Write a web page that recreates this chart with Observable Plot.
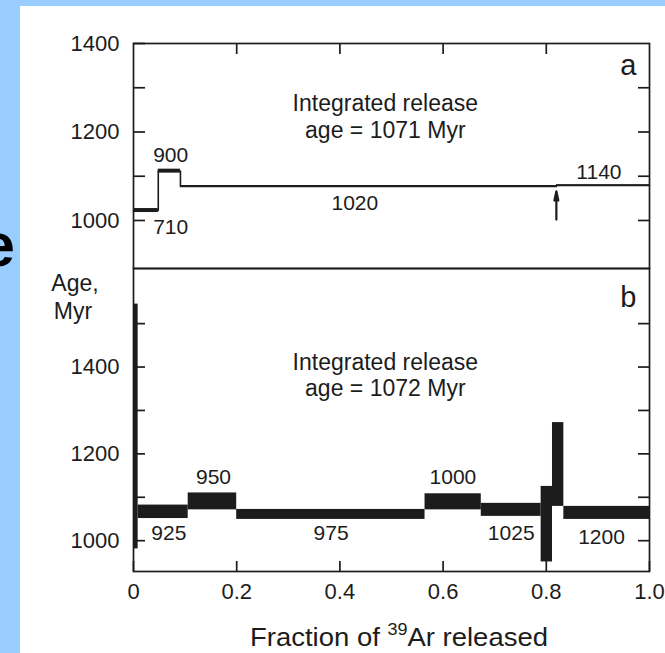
<!DOCTYPE html>
<html><head><meta charset="utf-8">
<script src="https://cdn.jsdelivr.net/npm/d3@7"></script>
<script src="https://cdn.jsdelivr.net/npm/@observablehq/plot@0.6"></script>
<style>
html,body{margin:0;padding:0;background:#99ccff;width:665px;height:653px;overflow:hidden;font-family:"Liberation Sans",Arial,sans-serif;}
#sheet{position:absolute;left:20px;top:6px;right:0;bottom:0;background:#fff;}
.layer{position:absolute;left:0;top:0;}
</style></head><body>
<div id="sheet"></div>
<div id="panelA" class="layer"></div>
<div id="panelB" class="layer"></div>
<svg id="overlay" class="layer" width="665" height="653"></svg>
<script>
// ---------- Data: panel a ----------
const fracA_start = [0, 0.048, 0.091, 0.8195];
const fracA_end   = [0.048, 0.091, 0.8195, 1.0];
const ageA_low    = [1018, 1107, 1075, 1077];
const ageA_high   = [1027, 1116, 1079, 1081];
const tempLabelsA = ["900", "710", "1020", "1140"];
const tempLabelA_x = [0.072, 0.072, 0.429, 0.902];
const tempLabelA_y = [1147, 984, 1038, 1109];
const arrowA_frac = 0.8195;
const arrowA_age  = [1002, 1066];
const titleA = ["Integrated release", "age = 1071 Myr"];
const titleA_y = [1264, 1203];

// ---------- Data: panel b ----------
const fracB_start = [0, 0.009, 0.106, 0.200, 0.565, 0.674, 0.790, 0.812, 0.834];
const fracB_end   = [0.009, 0.106, 0.200, 0.565, 0.674, 0.790, 0.812, 0.834, 1.0];
const ageB_low    = [981, 1051, 1071, 1049, 1071, 1056, 951, 1079, 1049];
const ageB_high   = [1545, 1082, 1110, 1072, 1108, 1086, 1125, 1272, 1079];
const tempLabelsB = ["925", "950", "975", "1000", "1025", "1200"];
const tempLabelB_x = [0.0685, 0.155, 0.383, 0.619, 0.732, 0.907];
const tempLabelB_y = [1017, 1146, 1017, 1147, 1017, 1009];
const titleB = ["Integrated release", "age = 1072 Myr"];
const titleB_y = [1411, 1351];

// ---------- Axes ----------
const yTicksA = [1000, 1100, 1200, 1300, 1400];
const yTicksB = [1000, 1100, 1200, 1300, 1400, 1500];
const yLabeled = [1000, 1200, 1400];
const xTicks = [0, 0.2, 0.4, 0.6, 0.8, 1.0];
const xTickLabels = ["0", "0.2", "0.4", "0.6", "0.8", "1.0"];
const titleX = 0.488;
const panelLetterX = 0.959;

const INK = "#1c1c1c";
const FONT = "'Liberation Sans', Arial, sans-serif";

const stepsA = fracA_start.map((s, i) => ({x1: s, x2: fracA_end[i], lo: ageA_low[i], hi: ageA_high[i]}));
const linePtsA = stepsA.map(d => ({x: d.x1, y: (d.lo + d.hi) / 2}))
  .concat([{x: 1.0, y: (ageA_low[ageA_low.length-1] + ageA_high[ageA_high.length-1]) / 2}]);
const annA = tempLabelsA.map((t, i) => ({t, x: tempLabelA_x[i], y: tempLabelA_y[i]}));
const stepsB = fracB_start.map((s, i) => ({x1: s, x2: fracB_end[i], lo: ageB_low[i], hi: ageB_high[i]}));
const annB = tempLabelsB.map((t, i) => ({t, x: tempLabelB_x[i], y: tempLabelB_y[i]}));

const common = {
  width: 665,
  marginLeft: 133, marginRight: 16,
  style: {background: "transparent", fontFamily: FONT, color: INK, overflow: "visible"},
  x: {domain: [0, 1]}
};

const plotA = Plot.plot({
  ...common,
  height: 280, marginTop: 43, marginBottom: 12,
  y: {domain: [891.5, 1400]},
  marks: [
    Plot.frame({stroke: INK, strokeWidth: 1.7}),
    Plot.axisY({anchor: "left", ticks: yTicksA, tickSize: -12, tickPadding: 26, strokeWidth: 1.7,
      tickFormat: d => yLabeled.includes(d) ? String(d) : "", fontSize: 22, label: null}),
    Plot.axisY({anchor: "right", ticks: yTicksA.slice(0, -1), tickSize: -12, strokeWidth: 1.7,
      tickFormat: () => "", label: null}),
    Plot.axisX({anchor: "top", ticks: xTicks.slice(1, -1), tickSize: -10, strokeWidth: 1.7,
      tickFormat: () => "", label: null}),
    Plot.line(linePtsA, {x: "x", y: "y", curve: "step-after", stroke: INK, strokeWidth: 1.6}),
    Plot.rect(stepsA, {x1: "x1", x2: "x2", y1: "lo", y2: "hi", fill: INK}),
    Plot.arrow([arrowA_age], {x1: () => arrowA_frac, x2: () => arrowA_frac, y1: d => d[0], y2: d => d[1],
      stroke: INK, strokeWidth: 2.2, headLength: 13, headAngle: 24}),
    Plot.text(annA, {x: "x", y: "y", text: "t", fontSize: 21, fill: INK}),
    Plot.text(titleA, {x: () => titleX, y: (d, i) => titleA_y[i], text: d => d, fontSize: 23, fill: INK}),
    Plot.text(["a"], {x: () => panelLetterX, y: () => 1350, text: d => d, fontSize: 29, fill: INK})
  ]
});

const plotB = Plot.plot({
  ...common,
  height: 653, marginTop: 268, marginBottom: 82,
  y: {domain: [929, 1627]},
  marks: [
    Plot.frame({stroke: INK, strokeWidth: 1.7}),
    Plot.axisY({anchor: "left", ticks: yTicksB, tickSize: -12, tickPadding: 26, strokeWidth: 1.7,
      tickFormat: d => yLabeled.includes(d) ? String(d) : "", fontSize: 22, label: null}),
    Plot.axisY({anchor: "right", ticks: yTicksB, tickSize: -12, strokeWidth: 1.7,
      tickFormat: () => "", label: null}),
    Plot.axisX({anchor: "bottom", ticks: xTicks, tickSize: -10, tickPadding: 22, strokeWidth: 1.7,
      tickFormat: (d, i) => xTickLabels[i], fontSize: 22, label: null}),
    Plot.rect(stepsB, {x1: "x1", x2: "x2", y1: "lo", y2: "hi", fill: INK}),
    Plot.text(annB, {x: "x", y: "y", text: "t", fontSize: 21, fill: INK}),
    Plot.text(titleB, {x: () => titleX, y: (d, i) => titleB_y[i], text: d => d, fontSize: 23, fill: INK}),
    Plot.text(["b"], {x: () => panelLetterX, y: () => 1560, text: d => d, fontSize: 29, fill: INK})
  ]
});

document.getElementById("panelA").append(plotA);
document.getElementById("panelB").append(plotB);

// ---------- Overlay text: y-axis title, x-axis title, slide fragment ----------
const ov = d3.select("#overlay").style("font-family", FONT);
ov.append("text").attr("x", 15).attr("y", 266).attr("text-anchor", "end")
  .attr("font-size", 61).attr("font-weight", "bold").attr("fill", "#000").text("e");
const ylab = ov.append("text").attr("text-anchor", "middle").attr("font-size", 23).attr("fill", INK);
ylab.append("tspan").attr("x", 75).attr("y", 291).text("Age,");
ylab.append("tspan").attr("x", 73).attr("y", 319).text("Myr");
const xlab = ov.append("text").attr("x", 399).attr("y", 646).attr("text-anchor", "middle")
  .attr("font-size", 26).attr("fill", INK)
  .attr("textLength", 298).attr("lengthAdjust", "spacingAndGlyphs");
xlab.append("tspan").text("Fraction of ");
xlab.append("tspan").attr("font-size", 17).attr("dy", -11).text("39");
xlab.append("tspan").attr("dy", 11).text("Ar released");
</script>
</body></html>
